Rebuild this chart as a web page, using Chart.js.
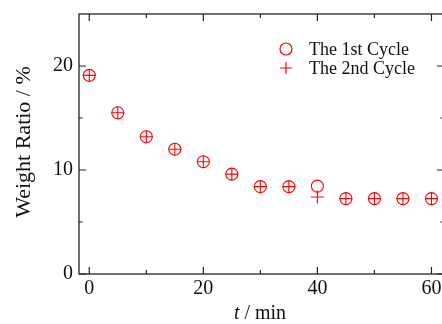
<!DOCTYPE html>
<html lang="en">

<head>
    <meta charset="UTF-8">
    <title>Weight Ratio</title>
    <style>
        html, body { margin: 0; padding: 0; background: #fff; overflow: hidden; }
        #wrap { width: 446px; height: 324px; }
    </style>
</head>

<body>
    <div id="wrap"><canvas id="chart" width="446" height="324"></canvas></div>
    <script src="https://cdn.jsdelivr.net/npm/chart.js@4.4.0/dist/chart.umd.min.js"></script>
    <script>
        // data
        const times = [0, 5, 10, 15, 20, 25, 30, 35, 40, 45, 50, 55, 60]
        const cycle1 = [19.1, 15.5, 13.2, 12.0, 10.8, 9.6, 8.4, 8.4, 8.45, 7.25, 7.25, 7.25, 7.25]
        const cycle2 = [19.1, 15.5, 13.2, 12.0, 10.8, 9.6, 8.4, 8.4, 7.4, 7.25, 7.25, 7.25, 7.25]
        const seriesLabels = ['The 1st Cycle', 'The 2nd Cycle']

        const xTicks = [0, 20, 40, 60]
        const xMinor = [10, 30, 50]
        const yTicks = [0, 10, 20]
        const yMinor = [5, 15]

        const serif = "'Liberation Serif', 'Times New Roman', serif"
        const red = '#ff0000'

        const toPoints = (ys) => times.map((t, i) => ({ x: t, y: ys[i] }))

        // frame with inward ticks, tick labels, axis titles and legend
        const framePlugin = {
            id: 'frame',
            afterDraw(chart) {
                const ctx = chart.ctx
                const area = chart.chartArea
                const xs = chart.scales.x
                const ys = chart.scales.y
                ctx.save()
                ctx.strokeStyle = '#222'
                ctx.lineWidth = 1.3
                ctx.strokeRect(area.left, area.top, area.right - area.left, area.bottom - area.top)

                ctx.lineWidth = 1.2
                ctx.beginPath()
                const xTick = (v, len) => {
                    const px = xs.getPixelForValue(v)
                    ctx.moveTo(px, area.bottom); ctx.lineTo(px, area.bottom - len)
                    ctx.moveTo(px, area.top); ctx.lineTo(px, area.top + len)
                }
                const yTick = (v, len) => {
                    const py = ys.getPixelForValue(v)
                    ctx.moveTo(area.left, py); ctx.lineTo(area.left + len, py)
                    ctx.moveTo(area.right, py); ctx.lineTo(area.right - len, py)
                }
                xTicks.forEach(v => xTick(v, 7))
                xMinor.forEach(v => xTick(v, 4))
                yTicks.forEach(v => yTick(v, 7))
                yMinor.forEach(v => yTick(v, 3.5))
                ctx.stroke()

                // tick labels
                ctx.fillStyle = '#111'
                ctx.font = '20px ' + serif
                ctx.textBaseline = 'alphabetic'
                ctx.textAlign = 'center'
                xTicks.forEach(v => ctx.fillText(String(v), xs.getPixelForValue(v), area.bottom + 19.5))
                ctx.textAlign = 'right'
                yTicks.forEach(v => ctx.fillText(String(v), area.left - 6, ys.getPixelForValue(v) + 5))

                // y title (source font runs a bit wide)
                ctx.textAlign = 'center'
                ctx.save()
                ctx.translate(30, 142)
                ctx.rotate(-Math.PI / 2)
                ctx.scale(1.1, 1)
                ctx.fillText('Weight Ratio / %', 0, 0)
                ctx.restore()

                // x title, italic t
                const italic = 'italic 20px ' + serif
                const normal = '20px ' + serif
                ctx.textAlign = 'left'
                ctx.font = italic
                const w1 = ctx.measureText('t').width
                ctx.font = normal
                const w2 = ctx.measureText(' / min').width
                const sx = 260 - (w1 + w2) / 2
                ctx.font = italic
                ctx.fillText('t', sx, 319)
                ctx.font = normal
                ctx.fillText(' / min', sx + w1, 319)

                // legend
                const rows = [49, 68]
                ctx.strokeStyle = red
                ctx.lineWidth = 1.2
                ctx.beginPath()
                ctx.arc(286, rows[0], 6, 0, Math.PI * 2)
                ctx.moveTo(280, rows[1]); ctx.lineTo(292, rows[1])
                ctx.moveTo(286, rows[1] - 6); ctx.lineTo(286, rows[1] + 6)
                ctx.stroke()
                ctx.font = '18px ' + serif
                ctx.fillText(seriesLabels[0], 309, 55)
                ctx.fillText(seriesLabels[1], 309, 74)
                ctx.restore()
            }
        }

        const config = {
            type: 'scatter',
            data: {
                datasets: [
                    {
                        label: seriesLabels[0],
                        data: toPoints(cycle1),
                        pointStyle: 'circle',
                        pointRadius: 6,
                        pointHoverRadius: 6,
                        borderColor: red,
                        backgroundColor: 'rgba(0,0,0,0)',
                        borderWidth: 1.1
                    },
                    {
                        label: seriesLabels[1],
                        data: toPoints(cycle2),
                        pointStyle: 'cross',
                        pointRadius: 6.5,
                        pointHoverRadius: 6.5,
                        borderColor: red,
                        backgroundColor: red,
                        borderWidth: 1.1
                    }
                ]
            },
            options: {
                responsive: false,
                animation: false,
                events: [],
                layout: {
                    autoPadding: false,
                    padding: { top: 14, right: 2, left: 0, bottom: 0 }
                },
                plugins: {
                    legend: { display: false },
                    tooltip: { enabled: false }
                },
                scales: {
                    x: {
                        type: 'linear',
                        min: -1.8,
                        max: 62.2,
                        grid: { display: false, drawTicks: false },
                        border: { display: false },
                        ticks: { display: false },
                        afterFit: (scale) => { scale.height = 50 }
                    },
                    y: {
                        type: 'linear',
                        min: 0,
                        max: 25,
                        grid: { display: false, drawTicks: false },
                        border: { display: false },
                        ticks: { display: false },
                        afterFit: (scale) => { scale.width = 79 }
                    }
                }
            },
            plugins: [framePlugin]
        }

        const chart = new Chart(document.getElementById('chart'), config)
    </script>
</body>

</html>
